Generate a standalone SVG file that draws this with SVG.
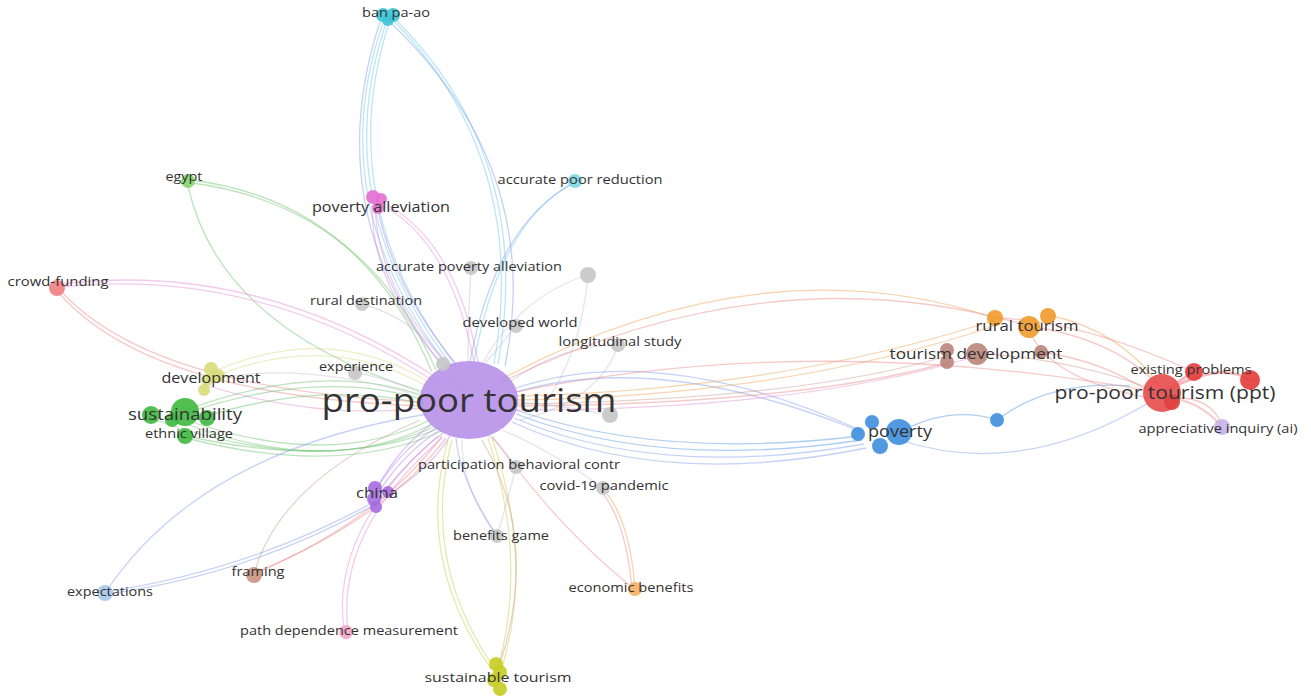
<svg xmlns="http://www.w3.org/2000/svg" width="1311" height="696" viewBox="0 0 1311 696">
  <style>
    text { font-family: "Open Sans", "DejaVu Sans", sans-serif; fill: #333; text-anchor: middle; }
    .l { font-size: 13px; }
    .m { font-size: 15px; }
    .b { font-size: 16px; }
    .edges path { fill: none; stroke-width: 1.3; stroke-opacity: 0.45; }
    .cy { stroke: #6cc7e8; }
    .bl { stroke: #7f9be8; }
    .pu { stroke: #b07ee8; }
    .pk { stroke: #e48bd8; }
    .rd { stroke: #ee8a8a; }
    .gr { stroke: #6cc06c; }
    .ye { stroke: #d6d680; }
    .gy { stroke: #c4c4d4; }
    .or { stroke: #f0a050; }
    .br { stroke: #c99b90; }
    .pb { stroke: #4d92e0; }
    .yg { stroke: #cccc50; }
    .nodes circle { fill-opacity: 0.9; }
  </style>
  <rect width="1311" height="696" fill="#ffffff"/>

  <g id="connectors" class="edges">
    <!-- ban pa-ao bundles -->
    <path class="cy" d="M384,20 Q320,200 448,366"/>
    <path class="cy" d="M387,20 Q325,200 452,366"/>
    <path class="cy" d="M390,20 Q330,200 456,366"/>
    <path class="bl" d="M380,22 Q318,210 444,368"/>
    <path class="cy" d="M393,20 Q530,160 494,364"/>
    <path class="cy" d="M396,20 Q535,160 498,364"/>
    <path class="bl" d="M390,22 Q545,170 505,366"/>
    <!-- accurate poor reduction -->
    <path class="cy" d="M575,182 Q500,220 474,362"/>
    <path class="bl" d="M572,184 Q495,226 470,362"/>
    <!-- egypt -->
    <path class="gr" d="M190,180 Q360,200 432,372"/>
    <path class="gr" d="M192,183 Q365,206 436,370"/>
    <path class="gr" d="M188,186 Q220,330 424,392"/>
    <!-- poverty alleviation -->
    <path class="pk" d="M372,205 Q372,290 446,368"/>
    <path class="pk" d="M375,205 Q378,290 450,366"/>
    <path class="pk" d="M380,204 Q450,240 474,362"/>
    <path class="pk" d="M382,202 Q456,240 478,362"/>
    <path class="pu" d="M378,210 Q395,290 456,364"/>
    <!-- crowd-funding -->
    <path class="pk" d="M60,284 Q260,260 440,380"/>
    <path class="pk" d="M60,287 Q260,266 438,384"/>
    <path class="rd" d="M60,290 Q150,390 424,402"/>
    <path class="rd" d="M58,292 Q148,396 422,406"/>
    <!-- gray keywords -->
    <path class="gy" d="M362,304 Q420,320 448,370"/>
    <path class="gy" d="M471,268 Q468,320 468,362"/>
    <path class="gy" d="M588,275 Q520,296 482,364"/>
    <path class="gy" d="M588,275 Q580,360 540,410"/>
    <path class="gy" d="M516,325 Q498,350 482,366"/>
    <path class="gy" d="M618,345 Q560,345 510,382"/>
    <path class="gy" d="M618,345 Q600,400 520,420"/>
    <path class="gy" d="M355,372 Q392,380 424,394"/>
    <path class="gy" d="M443,365 Q455,380 462,390"/>
    <path class="gy" d="M610,415 Q560,405 518,402"/>
    <path class="gy" d="M516,467 Q500,442 486,434"/>
    <path class="gy" d="M516,467 Q505,510 497,536"/>
    <path class="gy" d="M603,488 Q550,450 502,430"/>
    <path class="gy" d="M497,536 Q462,490 462,440"/>
    <path class="bl" d="M497,536 Q460,480 456,438"/>
    <!-- development -->
    <path class="ye" d="M213,372 Q330,320 432,384"/>
    <path class="ye" d="M216,376 Q330,330 430,388"/>
    <path class="pk" d="M208,386 Q320,420 424,408"/>
    <!-- sustainability / ethnic village -->
    <path class="gr" d="M186,410 Q320,360 424,396"/>
    <path class="gr" d="M186,413 Q320,368 424,400"/>
    <path class="gr" d="M200,418 Q320,380 424,404"/>
    <path class="gr" d="M186,420 Q330,470 430,420"/>
    <path class="gr" d="M186,424 Q330,478 432,424"/>
    <path class="gr" d="M186,436 Q340,470 440,428"/>
    <path class="gr" d="M186,438 Q340,478 444,430"/>
    <path class="gr" d="M150,418 Q320,480 436,426"/>
    <path class="gy" d="M210,380 Q300,360 420,396"/>
    <!-- china -->
    <path class="pu" d="M376,490 Q400,450 436,428"/>
    <path class="pu" d="M380,490 Q405,452 440,430"/>
    <path class="pu" d="M384,492 Q412,456 444,432"/>
    <path class="pu" d="M372,498 Q395,450 432,424"/>
    <path class="pu" d="M380,500 Q430,470 450,436"/>
    <!-- framing / expectations -->
    <path class="rd" d="M254,574 Q380,520 442,436"/>
    <path class="rd" d="M256,572 Q384,520 446,438"/>
    <path class="br" d="M254,574 Q280,480 420,420"/>
    <path class="bl" d="M105,593 Q200,450 428,414"/>
    <path class="bl" d="M105,592 Q250,570 374,502"/>
    <path class="bl" d="M107,594 Q252,574 376,504"/>
    <!-- path dependence measurement -->
    <path class="pk" d="M344,630 Q330,530 438,436"/>
    <path class="pk" d="M348,630 Q336,530 442,438"/>
    <!-- sustainable tourism -->
    <path class="yg" d="M494,668 Q420,560 452,440"/>
    <path class="yg" d="M492,670 Q414,560 448,440"/>
    <path class="yg" d="M498,668 Q528,560 488,438"/>
    <path class="yg" d="M502,668 Q534,560 492,438"/>
    <path class="br" d="M500,664 Q540,540 482,440"/>
    <!-- economic benefits -->
    <path class="or" d="M635,589 Q630,520 604,490"/>
    <path class="rd" d="M632,589 Q626,520 600,490"/>
    <path class="rd" d="M633,588 Q560,530 492,436"/>
    <!-- poverty bundle -->
    <path class="bl" d="M860,430 Q660,340 516,388"/>
    <path class="bl" d="M862,432 Q660,350 516,392"/>
    <path class="pb" d="M860,436 Q660,460 516,410"/>
    <path class="pb" d="M862,440 Q660,470 516,414"/>
    <path class="bl" d="M864,444 Q660,480 514,418"/>
    <path class="bl" d="M866,448 Q660,490 512,422"/>
    <path class="pb" d="M900,432 Q950,405 997,420"/>
    <path class="pb" d="M997,420 Q1050,380 1130,386"/>
    <path class="bl" d="M900,440 Q1020,480 1150,402"/>
    <!-- rural tourism / tourism development / ppt -->
    <path class="or" d="M500,380 Q760,240 995,318"/>
    <path class="rd" d="M498,384 Q770,250 1029,326"/>
    <path class="or" d="M516,396 Q780,390 995,320"/>
    <path class="or" d="M516,400 Q790,396 1000,324"/>
    <path class="br" d="M516,404 Q800,400 947,356"/>
    <path class="rd" d="M516,406 Q800,404 950,362"/>
    <path class="pk" d="M516,410 Q800,410 977,356"/>
    <path class="rd" d="M1162,393 Q820,330 516,392"/>
    <path class="rd" d="M1029,326 Q1120,340 1162,390"/>
    <path class="rd" d="M1041,352 Q1100,360 1150,392"/>
    <path class="rd" d="M1029,330 Q1050,380 1150,398"/>
    <path class="or" d="M1048,315 Q1120,330 1160,386"/>
    <path class="rd" d="M995,318 Q1080,320 1194,372"/>
    <path class="br" d="M977,353 Q1080,360 1162,393"/>
    <path class="rd" d="M1162,393 Q1220,360 1250,380" style="stroke-width:3;stroke-opacity:0.6"/>
    <path class="rd" d="M1162,393 Q1180,380 1194,372" style="stroke-width:3;stroke-opacity:0.6"/>
    <path class="rd" d="M1162,396 Q1200,400 1222,427" style="stroke-width:2"/>
    <path class="rd" d="M1170,398 Q1210,395 1222,425"/>
  </g>

  <g class="nodes">
    <g id="n-center"><ellipse cx="469" cy="400" rx="49" ry="39" fill="#b48ae8" fill-opacity="0.85"/></g>
    <g id="n-ban-pa-ao">
      <circle cx="383" cy="15" r="7" fill="#3cc4d8"/><circle cx="393" cy="15" r="7" fill="#3cc4d8"/><circle cx="388" cy="20" r="6" fill="#3cc4d8"/>
    </g>
    <g id="n-accurate-poor-reduction"><circle cx="575" cy="181" r="7" fill="#7ed6e6"/></g>
    <g id="n-egypt"><circle cx="188" cy="181" r="7" fill="#86d66b"/></g>
    <g id="n-poverty-alleviation">
      <circle cx="373" cy="197" r="7" fill="#e36fd3"/><circle cx="381" cy="199" r="6" fill="#e36fd3"/><circle cx="378" cy="208" r="6" fill="#e36fd3"/>
    </g>
    <g id="n-accurate-poverty-alleviation"><circle cx="471" cy="268" r="7" fill="#c6c6c6"/></g>
    <g id="n-gray-a"><circle cx="588" cy="275" r="8" fill="#c6c6c6"/></g>
    <g id="n-crowd-funding"><circle cx="57" cy="288" r="8" fill="#ef7f7f"/></g>
    <g id="n-rural-destination"><circle cx="362" cy="304" r="7" fill="#c6c6c6"/></g>
    <g id="n-developed-world"><circle cx="516" cy="326" r="7" fill="#c6c6c6"/></g>
    <g id="n-longitudinal-study"><circle cx="618" cy="345" r="7" fill="#c6c6c6"/></g>
    <g id="n-gray-b"><circle cx="443" cy="364" r="7" fill="#c6c6c6"/></g>
    <g id="n-experience"><circle cx="355" cy="373" r="7" fill="#c6c6c6"/></g>
    <g id="n-gray-c"><circle cx="610" cy="415" r="8" fill="#c6c6c6"/></g>
    <g id="n-development">
      <circle cx="211" cy="369" r="7" fill="#d8dc78"/><circle cx="218" cy="376" r="7" fill="#d8dc78"/><circle cx="207" cy="380" r="6" fill="#d8dc78"/><circle cx="204" cy="390" r="6" fill="#d8dc78"/>
    </g>
    <g id="n-sustainability">
      <circle cx="151" cy="415" r="9" fill="#3fb83f"/><circle cx="185" cy="412" r="14" fill="#3fb83f"/><circle cx="207" cy="418" r="8" fill="#3fb83f"/><circle cx="172" cy="420" r="7" fill="#3fb83f"/>
    </g>
    <g id="n-ethnic-village"><circle cx="185" cy="436" r="8" fill="#3fb83f"/></g>
    <g id="n-participation"><circle cx="516" cy="467" r="7" fill="#c6c6c6"/></g>
    <g id="n-covid"><circle cx="603" cy="488" r="7" fill="#c6c6c6"/></g>
    <g id="n-china">
      <circle cx="375" cy="488" r="7" fill="#a66ce0"/><circle cx="388" cy="492" r="6" fill="#a66ce0"/><circle cx="374" cy="499" r="7" fill="#a66ce0"/><circle cx="376" cy="507" r="6" fill="#a66ce0"/>
    </g>
    <g id="n-benefits-game"><circle cx="497" cy="536" r="7" fill="#c6c6c6"/></g>
    <g id="n-framing"><circle cx="254" cy="575" r="8" fill="#c9927f"/></g>
    <g id="n-economic-benefits"><circle cx="635" cy="589" r="7" fill="#f4b060"/></g>
    <g id="n-expectations"><circle cx="105" cy="593" r="8" fill="#a8c8ec"/></g>
    <g id="n-path-dependence"><circle cx="346" cy="632" r="7" fill="#f2a6c8"/></g>
    <g id="n-sustainable-tourism">
      <circle cx="496" cy="664" r="7" fill="#c8cc22"/><circle cx="500" cy="672" r="7" fill="#c8cc22"/><circle cx="494" cy="680" r="7" fill="#c8cc22"/><circle cx="500" cy="689" r="7" fill="#c8cc22"/>
    </g>
    <g id="n-rural-tourism">
      <circle cx="995" cy="318" r="8" fill="#f09a2a"/><circle cx="1048" cy="316" r="8" fill="#f09a2a"/><circle cx="1029" cy="327" r="11" fill="#f09a2a"/>
    </g>
    <g id="n-tourism-development">
      <circle cx="947" cy="350" r="7" fill="#b9857a"/><circle cx="947" cy="362" r="7" fill="#b9857a"/><circle cx="977" cy="354" r="11" fill="#b9857a"/><circle cx="1041" cy="352" r="7" fill="#b9857a"/>
    </g>
    <g id="n-poverty">
      <circle cx="872" cy="422" r="7" fill="#3e8fde"/><circle cx="858" cy="434" r="7" fill="#3e8fde"/><circle cx="880" cy="446" r="8" fill="#3e8fde"/><circle cx="899" cy="432" r="13" fill="#3e8fde"/>
    </g>
    <g id="n-blue-small"><circle cx="997" cy="420" r="7" fill="#3e8fde"/></g>
    <g id="n-ppt">
      <circle cx="1162" cy="393" r="19" fill="#e84b4b"/><circle cx="1172" cy="402" r="8" fill="#e04040"/><circle cx="1194" cy="372" r="9" fill="#e63a3a"/><circle cx="1250" cy="380" r="10" fill="#e63a3a"/>
    </g>
    <g id="n-appreciative-inquiry"><circle cx="1222" cy="427" r="8" fill="#c8b2ea"/></g>
  </g>

  <g id="labels">
    <text class="l" x="396" y="17" textLength="68" lengthAdjust="spacingAndGlyphs">ban pa-ao</text>
    <text class="l" x="580" y="184" textLength="165" lengthAdjust="spacingAndGlyphs">accurate poor reduction</text>
    <text class="l" x="184" y="181" textLength="37" lengthAdjust="spacingAndGlyphs">egypt</text>
    <text class="m" x="381" y="212" textLength="138" lengthAdjust="spacingAndGlyphs">poverty alleviation</text>
    <text class="l" x="469" y="271" textLength="186" lengthAdjust="spacingAndGlyphs">accurate poverty alleviation</text>
    <text class="l" x="58" y="286" textLength="101" lengthAdjust="spacingAndGlyphs">crowd-funding</text>
    <text class="l" x="366" y="305" textLength="112" lengthAdjust="spacingAndGlyphs">rural destination</text>
    <text class="l" x="520" y="327" textLength="115" lengthAdjust="spacingAndGlyphs">developed world</text>
    <text class="l" x="620" y="346" textLength="123" lengthAdjust="spacingAndGlyphs">longitudinal study</text>
    <text class="l" x="356" y="371" textLength="74" lengthAdjust="spacingAndGlyphs">experience</text>
    <text class="m" x="211" y="383" textLength="99" lengthAdjust="spacingAndGlyphs">development</text>
    <text class="b" x="185" y="420" textLength="114" lengthAdjust="spacingAndGlyphs">sustainability</text>
    <text class="l" x="189" y="438" textLength="88" lengthAdjust="spacingAndGlyphs">ethnic village</text>
    <text x="469" y="412" font-size="32" textLength="295" lengthAdjust="spacingAndGlyphs">pro-poor tourism</text>
    <text class="l" x="519" y="469" textLength="202" lengthAdjust="spacingAndGlyphs">participation behavioral contr</text>
    <text class="l" x="604" y="490" textLength="129" lengthAdjust="spacingAndGlyphs">covid-19 pandemic</text>
    <text class="m" x="377" y="498" textLength="42" lengthAdjust="spacingAndGlyphs">china</text>
    <text class="l" x="501" y="540" textLength="96" lengthAdjust="spacingAndGlyphs">benefits game</text>
    <text class="l" x="258" y="576" textLength="53" lengthAdjust="spacingAndGlyphs">framing</text>
    <text class="l" x="631" y="592" textLength="125" lengthAdjust="spacingAndGlyphs">economic benefits</text>
    <text class="l" x="110" y="596" textLength="86" lengthAdjust="spacingAndGlyphs">expectations</text>
    <text class="l" x="349" y="635" textLength="218" lengthAdjust="spacingAndGlyphs">path dependence measurement</text>
    <text class="l" x="498" y="682" textLength="147" lengthAdjust="spacingAndGlyphs">sustainable tourism</text>
    <text class="m" x="1027" y="331" textLength="103" lengthAdjust="spacingAndGlyphs">rural tourism</text>
    <text class="m" x="976" y="359" textLength="173" lengthAdjust="spacingAndGlyphs">tourism development</text>
    <text class="b" x="900" y="437" textLength="64" lengthAdjust="spacingAndGlyphs">poverty</text>
    <text class="l" x="1191" y="374" textLength="121" lengthAdjust="spacingAndGlyphs">existing problems</text>
    <text x="1165" y="399" font-size="18" textLength="221" lengthAdjust="spacingAndGlyphs">pro-poor tourism (ppt)</text>
    <text class="l" x="1218" y="433" textLength="159" lengthAdjust="spacingAndGlyphs">appreciative inquiry (ai)</text>
  </g>
</svg>
